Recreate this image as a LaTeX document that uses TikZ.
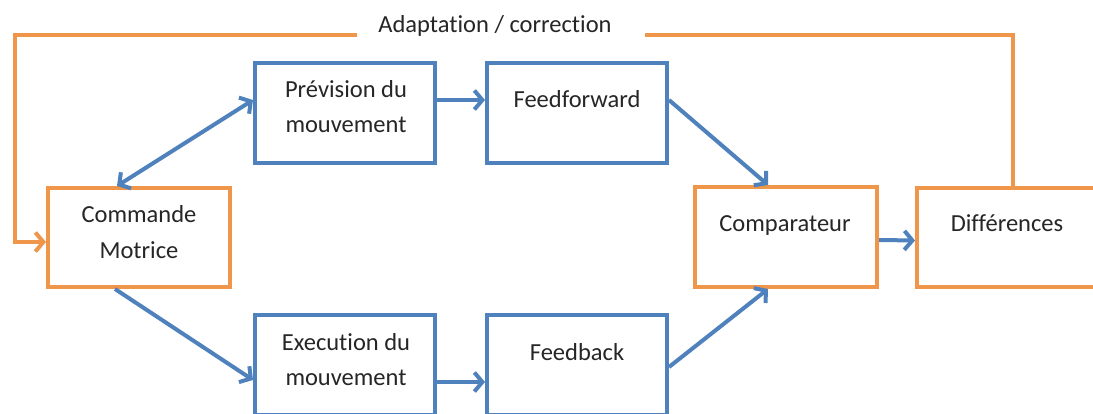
\documentclass[tikz,border=0pt]{standalone}
\usepackage{fontspec}
\setmainfont[Ligatures=NoCommon]{Carlito}
\usetikzlibrary{arrows.meta}
\definecolor{obox}{HTML}{F0964B}
\definecolor{bbox}{HTML}{4F81BD}
\definecolor{txt}{HTML}{262626}
\begin{document}
\begin{tikzpicture}[x=1pt,y=-1pt,
  box/.style={draw,line width=4pt,inner sep=0pt,minimum width=180pt,minimum height=100pt},
  obx/.style={box,draw=obox},
  bbx/.style={box,draw=bbox},
  lbl/.style={anchor=base,inner sep=0pt,text=txt,font=\fontsize{24.5}{30}\selectfont},
  barr/.style={draw=bbox,line width=4pt,-{Straight Barb[length=8pt,width=19pt]}},
  dbarr/.style={draw=bbox,line width=4pt,{Straight Barb[length=8pt,width=19pt]}-{Straight Barb[length=8pt,width=19pt]}},
  oline/.style={draw=obox,line width=4pt},
  oarr/.style={oline,-{Straight Barb[length=8pt,width=19pt]}}]
\clip (0,0) rectangle (1093,414);
\fill[white] (0,0) rectangle (1093,414);
% boxes
\node[obx,minimum width=182pt,minimum height=99pt] (cm) at (139,237.5) {};
\node[bbx] (pv) at (345,113) {};
\node[bbx] (ff) at (577,113) {};
\node[bbx] (ex) at (345,365) {};
\node[bbx] (fb) at (577,365) {};
\node[obx,minimum width=182pt] (cp) at (786,237) {};
\node[obx,minimum width=182pt,minimum height=99pt] (df) at (1008,237.5) {};
% texts
\node[lbl] (cmt1) at (139,223) {Commande};
\node[lbl] (cmt2) at (139,259) {Motrice};
\node[lbl] (pvt1) at (346,98) {Prévision du};
\node[lbl] (pvt2) at (346,133) {mouvement};
\node[lbl] (fft) at (577,108) {Feedforward};
\node[lbl] (ext1) at (346,350) {Execution du};
\node[lbl] (ext2) at (346,385) {mouvement};
\node[lbl] (fbt) at (577,360) {Feedback};
\node[lbl] (cpt) at (785,232) {Comparateur};
\node[lbl] (dft) at (1007,232) {Différences};
\node[lbl] (adapt) at (495,33) {Adaptation / correction};
% blue connectors
\draw[dbarr] ([xshift=-22pt]cm.north) -- ([yshift=13pt]pv.west);
\draw[barr] ([yshift=13pt]pv.east) -- ([yshift=13pt]ff.west);
\draw[barr] ([yshift=13pt]ff.east) -- ([xshift=-18pt]cp.north);
\draw[barr] ([xshift=-24pt]cm.south) -- ([yshift=-15pt]ex.west);
\draw[barr] ([yshift=-17pt]ex.east) -- ([yshift=-17pt]fb.west);
\draw[barr] ([yshift=-2pt]fb.east) -- ([xshift=-18pt]cp.south);
\draw[barr] ([yshift=-3pt]cp.east) -- ([yshift=-3pt]df.west);
% orange feedback loop
\coordinate (gapR) at (645,35);
\coordinate (gapL) at (357,35);
\coordinate (corner) at (15,35);
\draw[oline] ([xshift=5pt]df.north) |- (gapR);
\draw[oarr] (gapL) -- (corner) |- ([yshift=-4.5pt]cm.west);
\end{tikzpicture}
\end{document}
